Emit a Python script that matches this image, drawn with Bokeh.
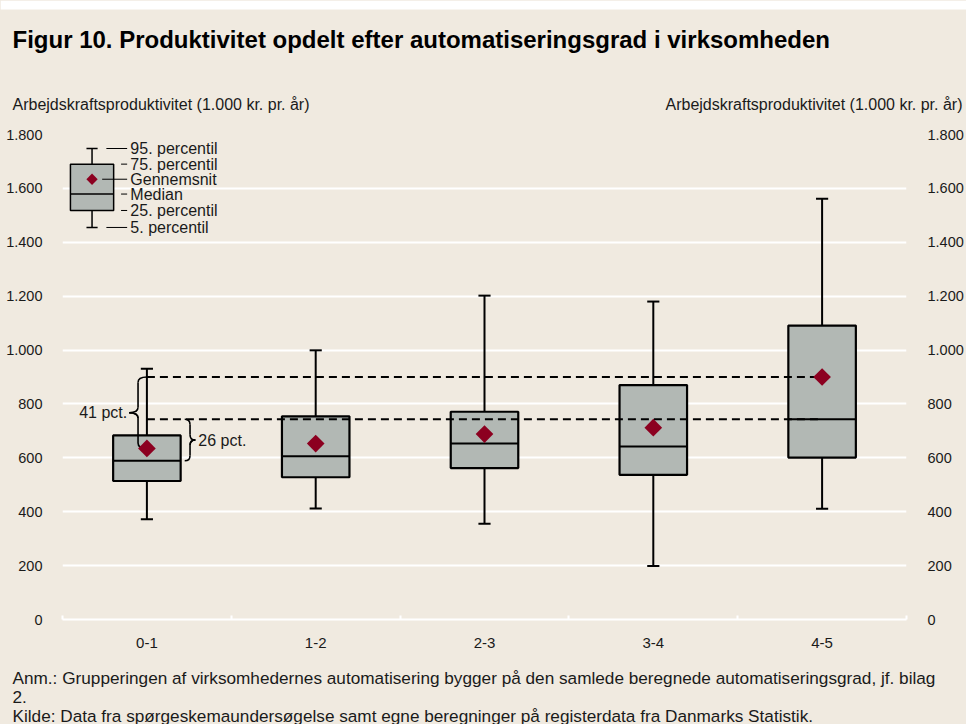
import numpy as np
from bokeh.plotting import figure
from bokeh.layouts import column
from bokeh.models import Range1d, FixedTicker, LinearAxis
from bokeh.core.properties import value
from bokeh.embed import file_html
from bokeh.resources import INLINE

# ---------------- data ----------------
categories = ["0-1", "1-2", "2-3", "3-4", "4-5"]
p5 = [372, 412, 355, 199, 411]
p25 = [514, 528, 562, 537, 601]
median = [589, 606, 653, 642, 743]
p75 = [683, 754, 771, 870, 1091]
p95 = [931, 999, 1202, 1180, 1562]
mean = [635, 653, 688, 712, 900]
y_ticks = [0, 200, 400, 600, 800, 1000, 1200, 1400, 1600, 1800]
legend_texts = ["95. percentil", "75. percentil", "Gennemsnit", "Median", "25. percentil", "5. percentil"]
brace_texts = ["41 pct.", "26 pct."]
title_text = "Figur 10. Produktivitet opdelt efter automatiseringsgrad i virksomheden"
axis_title = "Arbejdskraftsproduktivitet (1.000 kr. pr. år)"
note_lines = ["Anm.: Grupperingen af virksomhedernes automatisering bygger på den samlede beregnede automatiseringsgrad, jf. bilag",
              "2.",
              "Kilde: Data fra spørgeskemaundersøgelse samt egne beregninger på registerdata fra Danmarks Statistik."]

# ---------------- style ----------------
BG = "#F0EAE0"
BOX = "#B2B8B4"
RED = "#8C0020"
INK = "#1a1a1a"
FONT = "Liberation Sans"
W = 966
CSS = {"background-color": BG}


def blank(h, y0, y1):
    f = figure(width=W, height=h, x_range=Range1d(0, W), y_range=Range1d(y1, y0),
               x_axis_type=None, y_axis_type=None, output_backend="svg", toolbar_location=None,
               min_border_left=0, min_border_right=0, min_border_top=0, min_border_bottom=0,
               styles=CSS)
    f.background_fill_color = BG
    f.border_fill_color = BG
    f.outline_line_color = None
    f.frame_align = False
    return f


# ---------------- header (title + axis titles) ----------------
head = blank(114, 0, 114)
head.quad(left=[0], right=[W], top=[0], bottom=[9], fill_color="white", line_color=None)
head.text([12], [39], text=[title_text], text_font=value(FONT), text_font_size="24px",
          text_font_style="bold", text_color="black", text_baseline="alphabetic")
head.text([12, W - 4], [104, 104], text=[axis_title, axis_title], text_font=value(FONT),
          text_font_size="16px", text_color=INK, text_baseline="middle",
          text_align=["left", "right"])

# ---------------- main chart ----------------
n = len(categories)
xc = np.arange(n) + 0.5

p = figure(width=W, height=546, x_range=Range1d(0, n), y_range=Range1d(0, 1800),
           output_backend="svg", toolbar_location=None, title=None, styles=CSS,
           min_border_left=62, min_border_right=59, min_border_top=20, min_border_bottom=41)
p.background_fill_color = BG
p.border_fill_color = BG
p.outline_line_color = None
p.frame_align = False

tick_over = {v: f"{v:,}".replace(",", ".") for v in y_ticks}

ya = p.yaxis[0]
ya.ticker = FixedTicker(ticks=y_ticks)
ya.major_label_overrides = tick_over
ya.axis_line_color = None
ya.major_tick_line_color = None
ya.minor_tick_line_color = None
ya.major_label_standoff = 14
ya.major_label_text_font = FONT
ya.major_label_text_font_size = "14.5px"
ya.major_label_text_color = INK

ra = LinearAxis(ticker=FixedTicker(ticks=y_ticks), major_label_overrides=tick_over)
ra.axis_line_color = None
ra.major_tick_line_color = None
ra.minor_tick_line_color = None
ra.major_label_standoff = 15
ra.major_label_text_font = FONT
ra.major_label_text_font_size = "14.5px"
ra.major_label_text_color = INK
p.add_layout(ra, "right")

xa = p.xaxis[0]
xa.ticker = FixedTicker(ticks=list(xc), minor_ticks=list(range(n + 1)))
xa.major_label_overrides = {float(x): c for x, c in zip(xc, categories)}
xa.axis_line_color = "white"
xa.axis_line_width = 2
xa.major_tick_line_color = None
xa.minor_tick_in = 4
xa.minor_tick_out = 0
xa.minor_tick_line_color = "white"
xa.minor_tick_line_width = 2
xa.major_label_standoff = 12
xa.major_label_text_font = FONT
xa.major_label_text_font_size = "15px"
xa.major_label_text_color = INK

p.xgrid.visible = False
p.ygrid.ticker = FixedTicker(ticks=y_ticks)
p.ygrid.grid_line_color = "white"
p.ygrid.grid_line_width = 2

# box plots
hw = 0.2
cw = 0.036
p.segment(xc, p75, xc, p95, line_color="black", line_width=2)
p.segment(xc, p5, xc, p25, line_color="black", line_width=2)
p.segment(xc - cw, p95, xc + cw, p95, line_color="black", line_width=2)
p.segment(xc - cw, p5, xc + cw, p5, line_color="black", line_width=2)
p.quad(left=xc - hw, right=xc + hw, bottom=p25, top=p75,
       fill_color=BOX, line_color="black", line_width=2.2)
p.segment(xc - hw, median, xc + hw, median, line_color="black", line_width=2)

# dashed reference lines at the 4-5 mean and median
p.segment([xc[0], xc[0]], [mean[-1], median[-1]], [xc[-1], xc[-1]], [mean[-1], median[-1]],
          line_color="black", line_width=2, line_dash="8 5")


def brace(x, y_top, y_bot, depth, r):
    """curly brace from (x, y_top) to (x, y_bot) with its tip at x + depth."""
    ym = (y_top + y_bot) / 2
    xb = x + depth / 2
    xt = x + depth
    p.quadratic(x0=[x, xb, xb, xt, xb], y0=[y_top, ym + r, ym - r, ym, y_bot + r],
                x1=[xb, xt, xt, xb, x], y1=[y_top - r, ym, ym, ym - r, y_bot],
                cx=[xb, xb, xb, xb, xb], cy=[y_top, ym, ym, ym, y_bot],
                line_color="black", line_width=1.6)
    p.segment([xb, xb], [y_top - r, ym - r], [xb, xb], [ym + r, y_bot + r],
              line_color="black", line_width=1.6)
    return xt, ym


tx, tym = brace(xc[0], mean[-1], mean[0], -0.105, 20)
tx2, tym2 = brace(xc[0] + hw + 0.024, median[-1], median[0], 0.063, 20)
p.text([tx, tx2], [tym, tym2], text=brace_texts, x_offset=[-2, 3],
       text_align=["right", "left"], text_baseline="middle",
       text_font=value(FONT), text_font_size="16px", text_color=INK)

# means
p.scatter(xc, mean, marker="square", size=12.5, angle=np.pi / 4,
          fill_color=RED, line_color=None)

# explanatory legend (schematic box)
lx = 0.175
lv = [1748, 1690, 1634, 1579, 1518, 1455]  # schematic positions of the legend box
p.segment([lx, lx], [lv[1], lv[5]], [lx, lx], [lv[0], lv[4]], line_color="black", line_width=1.5)
p.segment([lx - 0.033, lx - 0.033], [lv[0], lv[5]], [lx + 0.033, lx + 0.033], [lv[0], lv[5]],
          line_color="black", line_width=1.5)
p.quad(left=[lx - 0.128], right=[lx + 0.128], bottom=[lv[4]], top=[lv[1]],
       fill_color=BOX, line_color="black", line_width=1.5)
p.segment([lx - 0.128], [lv[3]], [lx + 0.128], [lv[3]], line_color="black", line_width=1.5)
p.scatter([lx], [lv[2]], marker="square", size=8, angle=np.pi / 4, fill_color=RED, line_color=None)
lead_start = [0.260, 0.347, 0.235, 0.347, 0.347, 0.260]
p.segment(lead_start, lv, [0.383] * 6, lv, line_color="black", line_width=1)
p.text([0.402] * 6, lv, text=legend_texts, text_font=value(FONT), text_font_size="16px",
       text_baseline="middle", text_align="left", text_color=INK)

# ---------------- footer (notes) ----------------
foot = blank(64, 660, 724)
foot.text([12, 12, 12], [677, 696, 715], text=note_lines, text_font=value(FONT),
          text_font_size="17.2px", text_color=INK, text_baseline="alphabetic")

layout = column(head, p, foot, spacing=0, styles=CSS)
open("out.html", "w").write(file_html(layout, INLINE))
